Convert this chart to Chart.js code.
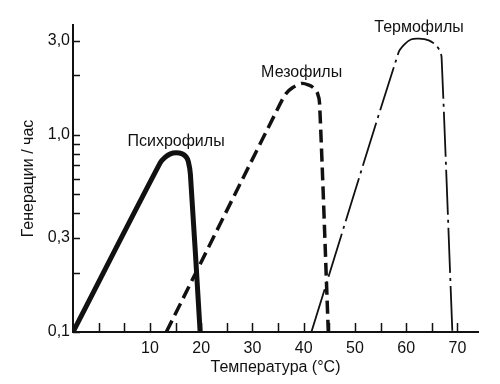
<!DOCTYPE html>
<html>
<head>
<meta charset="utf-8">
<script src="https://cdn.jsdelivr.net/npm/chart.js@4"></script>
<style>
  html, body { margin: 0; padding: 0; background: #fff; }
  #grafico { display: block; }
</style>
</head>
<body>
<canvas id="grafico" width="500" height="384"></canvas>
<script>
// температура (°C) и скорость роста (генерации / час) для трёх групп
const psychroTemp = [-5, 12.0, 13.0, 14.0, 15.1, 16.3, 17.1, 17.5, 17.9, 19.8];
const psychroRate = [0.1, 0.72, 0.77, 0.80, 0.81, 0.80, 0.77, 0.73, 0.63, 0.1];

const mesoTemp = [13.2, 35.5, 36.6, 37.8, 39.6, 40.9, 41.9, 42.7, 43.1, 44.8];
const mesoRate = [0.1, 1.45, 1.62, 1.73, 1.82, 1.79, 1.73, 1.62, 1.44, 0.1];

const thermoTemp = [41.5, 58.5, 59.6, 60.9, 62.5, 64.4, 65.7, 66.6, 66.9, 69.0];
const thermoRate = [0.1, 2.61, 2.86, 3.04, 3.07, 3.01, 2.86, 2.65, 2.46, 0.1];

const groupNames = ['Психрофилы', 'Мезофилы', 'Термофилы'];

const xTicks = [0, 5, 10, 15, 20, 25, 30, 35, 40, 45, 50, 55, 60, 65, 70];
const yTicks = [0.1, 0.2, 0.3, 0.4, 0.5, 0.6, 0.7, 0.8, 0.9, 1, 2, 3];
const yLabels = { 0.1: '0,1', 0.3: '0,3', 1: '1,0', 3: '3,0' };

const fonte = 'Liberation Sans, Arial, Helvetica, sans-serif';

const pontos = (xs, ys) => xs.map((x, i) => ({ x: x, y: ys[i] }));

// risquinhos dos eixos para dentro + nomes dos grupos sobre os picos
const extras = {
    id: 'extras',
    afterDatasetsDraw(chart) {
        const ctx = chart.ctx;
        const x = chart.scales.x;
        const y = chart.scales.y;
        const area = chart.chartArea;

        ctx.save();
        ctx.strokeStyle = '#111';
        ctx.lineWidth = 1.5;
        ctx.beginPath();
        xTicks.forEach(v => {
            const px = Math.round(x.getPixelForValue(v)) + 0.5;
            ctx.moveTo(px, area.bottom);
            ctx.lineTo(px, area.bottom - 9);
        });
        yTicks.forEach(v => {
            const py = Math.round(y.getPixelForValue(v)) + 0.5;
            ctx.moveTo(area.left, py);
            ctx.lineTo(area.left + 7, py);
        });
        ctx.stroke();

        ctx.fillStyle = '#111';
        ctx.font = '16px ' + fonte;
        ctx.textAlign = 'center';
        ctx.textBaseline = 'middle';
        chart.data.datasets.forEach((ds, i) => {
            let topo = ds.data[0];
            ds.data.forEach(p => { if (p.y > topo.y) topo = p; });
            ctx.fillText(groupNames[i], x.getPixelForValue(topo.x), y.getPixelForValue(topo.y) - 11);
        });
        ctx.restore();
    }
};

const ctx = document.getElementById('grafico');

new Chart(ctx, {
    type: 'line',
    data: {
        datasets: [
            {
                label: groupNames[0],
                data: pontos(psychroTemp, psychroRate),
                borderColor: '#111',
                borderWidth: 5,
                borderJoinStyle: 'round',
                borderCapStyle: 'round',
                pointRadius: 0,
                tension: 0.3
            },
            {
                label: groupNames[1],
                data: pontos(mesoTemp, mesoRate),
                borderColor: '#111',
                borderWidth: 3.5,
                borderDash: [13, 6],
                borderJoinStyle: 'round',
                pointRadius: 0,
                tension: 0.3
            },
            {
                label: groupNames[2],
                data: pontos(thermoTemp, thermoRate),
                borderColor: '#111',
                borderWidth: 1.8,
                borderDash: [45, 5, 3, 5],
                borderJoinStyle: 'round',
                pointRadius: 0,
                tension: 0.3
            }
        ]
    },
    options: {
        responsive: false,
        animation: false,
        layout: {
            padding: { top: 25, right: 22, left: 0, bottom: 0 }
        },
        scales: {
            x: {
                type: 'linear',
                min: -5,
                max: 74,
                afterBuildTicks: scale => {
                    scale.ticks = xTicks.map(v => ({ value: v }));
                },
                afterFit: scale => {
                    scale.height = 52;
                },
                ticks: {
                    autoSkip: false,
                    maxRotation: 0,
                    padding: 7,
                    color: '#111',
                    font: { family: fonte, size: 16 },
                    callback: v => (v >= 10 && v % 10 === 0) ? String(v) : ''
                },
                grid: {
                    drawOnChartArea: false,
                    drawTicks: false
                },
                border: {
                    display: true,
                    color: '#111',
                    width: 2
                },
                title: {
                    display: true,
                    text: 'Температура (°C)',
                    color: '#111',
                    font: { family: fonte, size: 16 },
                    padding: { top: 0, bottom: 7 }
                }
            },
            y: {
                type: 'logarithmic',
                min: 0.1,
                max: 3.6,
                afterBuildTicks: scale => {
                    scale.ticks = yTicks.map(v => ({ value: v }));
                },
                afterFit: scale => {
                    scale.width = 73;
                },
                ticks: {
                    autoSkip: false,
                    padding: 3,
                    color: '#111',
                    font: { family: fonte, size: 16 },
                    callback: v => yLabels[v] || ''
                },
                grid: {
                    drawOnChartArea: false,
                    drawTicks: false
                },
                border: {
                    display: true,
                    color: '#111',
                    width: 2
                },
                title: {
                    display: true,
                    text: 'Генерации / час',
                    color: '#111',
                    font: { family: fonte, size: 16 },
                    padding: { top: 19, bottom: 0 }
                }
            }
        },
        plugins: {
            legend: { display: false },
            tooltip: { enabled: false }
        }
    },
    plugins: [extras]
});
</script>
</body>
</html>
